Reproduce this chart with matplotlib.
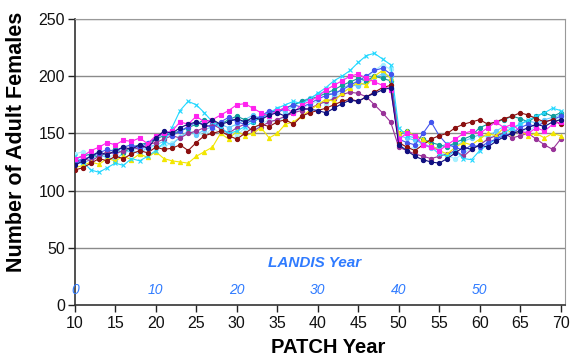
import matplotlib
matplotlib.use("Agg")
import matplotlib.pyplot as plt

plt.rcParams['font.family'] = ['Liberation Sans', 'DejaVu Sans']

years = list(range(10, 71))

navy = [122,126,130,134,131,135,138,136,140,137,
        146,152,150,155,158,160,157,162,158,160,
        163,160,164,162,166,168,165,170,172,171,
        170,168,172,176,179,178,182,185,188,190,
        140,135,130,127,125,124,128,133,138,136,
        140,138,143,147,150,152,155,158,156,160,162]
magenta = [128,130,135,138,142,140,144,143,146,141,
           148,150,152,160,158,165,160,162,166,170,
           175,176,172,168,165,170,172,168,175,178,
           182,188,192,196,200,202,198,195,192,188,
           145,150,148,140,138,135,140,145,150,152,
           150,155,160,155,158,152,150,155,152,158,160]
yellow = [120,122,125,123,128,126,130,127,132,129,
          134,128,126,125,124,130,134,138,150,145,
          152,148,150,155,146,150,158,160,165,170,
          175,180,178,185,190,195,192,200,205,198,
          150,152,148,145,140,135,132,138,142,140,
          145,150,148,155,150,152,148,150,146,150,148]
cyan = [130,125,118,116,120,124,122,128,126,130,
        135,142,155,170,178,175,168,160,155,150,
        152,156,160,165,168,172,175,178,176,180,
        185,190,196,200,205,212,218,220,215,210,
        155,148,146,140,138,132,130,135,128,127,
        135,140,145,150,155,158,162,165,168,172,170]
purple = [125,128,126,130,134,132,135,138,136,140,
          142,145,148,146,150,152,155,158,154,150,
          155,158,152,156,160,162,165,168,170,172,
          175,178,180,184,186,185,182,175,168,160,
          138,135,132,130,128,130,132,135,130,136,
          140,145,148,150,146,148,150,145,140,136,145]
darkred = [118,120,124,128,126,130,128,132,135,133,
           138,136,137,140,135,142,148,150,152,148,
           145,150,155,158,156,160,162,158,165,168,
           170,172,175,178,180,178,182,186,190,192,
           142,138,135,140,145,148,150,155,158,160,
           162,158,160,163,165,168,166,163,160,162,158]
teal = [128,130,132,129,134,136,133,138,140,142,
        145,148,150,152,155,158,162,160,158,162,
        165,162,160,164,168,170,172,175,178,180,
        182,185,188,192,195,198,196,200,198,196,
        150,152,148,145,142,140,138,142,145,148,
        155,158,160,162,165,163,160,165,168,165,168]
blue = [124,127,130,133,136,134,138,140,137,142,
        146,150,148,152,156,160,158,155,160,164,
        160,158,162,165,170,168,172,175,173,176,
        180,183,185,188,192,196,200,205,207,202,
        145,142,140,150,160,148,140,138,135,140,
        138,142,145,148,150,155,158,156,160,162,165]
lightcyan = [132,134,130,135,128,132,136,134,138,136,
             140,138,142,146,150,152,148,155,150,152,
             148,155,152,158,162,160,165,168,172,175,
             178,176,182,186,190,194,198,205,210,206,
             140,136,138,142,138,135,130,128,132,138,
             140,145,150,148,152,155,150,158,160,162,163]
skyblue = [126,123,128,131,129,127,133,135,132,138,
           140,143,140,147,152,149,153,156,158,155,
           158,162,166,163,167,171,169,174,178,181,
           184,187,183,189,193,191,195,199,202,200,
           148,146,144,141,137,138,141,139,143,146,
           149,147,152,156,154,158,161,159,162,164,166]

series = [
    (lightcyan, '#A6F0FF', 'o'),
    (skyblue, '#66CCFF', 'o'),
    (teal, '#109C9C', 'o'),
    (purple, '#993399', 'o'),
    (yellow, '#F2E600', '^'),
    (cyan, '#22D8FF', 'x'),
    (blue, '#4455EE', 'o'),
    (darkred, '#8B1010', 'o'),
    (magenta, '#FF22EE', 's'),
    (navy, '#101080', 'o'),
]

landis_ticks = [10, 20, 30, 40, 50, 60]
landis_labels = ['0', '10', '20', '30', '40', '50']

fig = plt.figure(figsize=(5.71, 3.58), dpi=100)
ax = fig.add_axes([0.131, 0.148, 0.858, 0.799])

for vals, col, mk in series:
    ax.plot(years, vals, color=col, lw=0.8, marker=mk, ms=3.0,
            mew=0.8, mec=col, mfc=col, zorder=3)

ax.set_xlim(10, 70.5)
ax.set_ylim(0, 250)
ax.set_xticks(range(10, 71, 5))
ax.set_yticks(range(0, 251, 50))
for yv in range(50, 251, 50):
    ax.axhline(yv, color='#8a8a8a', lw=1.0, zorder=1)

ax.tick_params(axis='both', labelsize=11.5, colors='#222222', direction='out')
ax.tick_params(axis='y', length=5, width=1, pad=2)
ax.tick_params(axis='x', length=5, width=1, pad=3)
for lab in ax.get_xticklabels() + ax.get_yticklabels():
    lab.set_color('#111111')

ax.spines['left'].set_color('#333333')
ax.spines['bottom'].set_color('#333333')
ax.spines['right'].set_color('#999999')
ax.spines['top'].set_color('#999999')
ax.spines['left'].set_linewidth(1.2)
ax.spines['bottom'].set_linewidth(1.2)

ax.set_ylabel('Number of Adult Females', fontsize=15.5, fontweight='bold')
ax.yaxis.set_label_coords(-0.098, 0.57)
ax.set_xlabel('PATCH Year', fontsize=14.5, fontweight='bold')
ax.xaxis.set_label_coords(0.518, -0.115)

landis_col = '#2F7BFF'
for xv, lab in zip(landis_ticks, landis_labels):
    ax.text(xv, 13, lab, color=landis_col, fontsize=10, style='italic',
            ha='center', va='center', zorder=4)
ax.text(39.6, 37, 'LANDIS Year', color=landis_col, fontsize=11,
        style='italic', fontweight='bold', ha='center', va='center', zorder=4)

fig.savefig('out.png', dpi=100)
